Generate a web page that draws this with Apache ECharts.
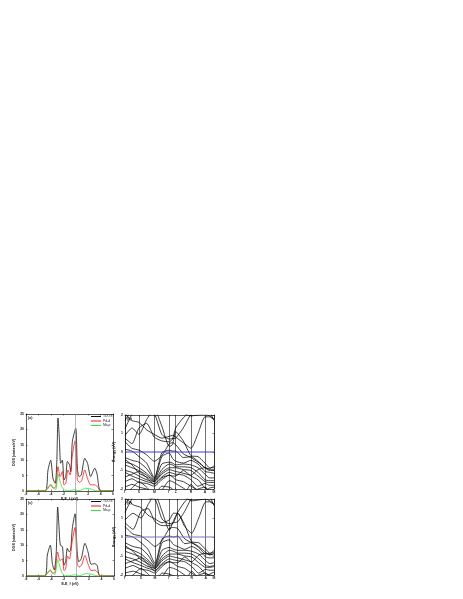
<!DOCTYPE html>
<html>
<head>
<meta charset="utf-8">
<script src="https://cdn.jsdelivr.net/npm/echarts@6/dist/echarts.min.js"></script>
<style>
html,body{margin:0;padding:0;background:#fff}
#main{width:463px;height:599px}
</style>
</head>
<body>
<div id="main"></div>
<script>
var myChart = echarts.init(document.getElementById('main'));

// DOS panels, energy then states
var tdosAx = [-8,-4.95,-4.46,-4.03,-3.65,-3.3,-3.06,-2.85,-2.63,-2.42,-2.15,-1.88,-1.6,-1.34,-1,-0.8,-0.54,0,0.27,0.54,0.9,1.45,1.9,2.4,3.06,3.4,4.03,6];
var tdosAy = [0,0,6.8,10,4,2.5,8.5,23.7,17,9,10,3.6,4.7,9.6,8.5,6.3,16,20.4,7.4,4.7,5.2,10.6,9,4.7,7.4,5.8,0,0];
var pdAx = [-8,-4.95,-4.46,-4,-3.65,-3.2,-2.85,-2.5,-2.15,-1.88,-1.6,-1.24,-0.9,-0.54,-0.1,0.27,0.65,1,1.45,1.9,2.4,3.06,3.5,4,6];
var pdAy = [0,0,0.9,2,0.9,1.4,7.9,4.7,6.3,2,2.5,6.8,5.2,11.7,16.3,3.6,2.8,3.6,6.8,4.1,2,2,1.4,0,0];
var nbAx = [-8,-5,-4.5,-4,-3.6,-3.2,-2.85,-2.5,-2.1,-1.6,-1,-0.3,0,0.5,1,1.6,2.4,3,4,6];
var nbAy = [0,0,1.2,2.2,1,0.5,5.5,3,0.9,0.1,0.1,0.4,0.3,0.1,0.4,0.9,0.7,0.2,0,0];

var tdosCx = [-8,-5,-4.6,-4.13,-3.8,-3.5,-3.2,-2.96,-2.75,-2.54,-2.2,-1.96,-1.7,-1.43,-1.16,-0.9,-0.63,-0.2,0.16,0.42,0.8,1.38,1.85,2.38,2.9,3.3,3.8,6];
var tdosCy = [0,0,6.8,10,4,2,7.3,22.4,16,10,9.5,3.5,4.6,9,7.9,8.4,15.5,20.2,7.3,4.6,5.7,10.6,7.9,3.8,4,3.5,0,0];
var pdCx = [-8,-5,-4.6,-4.13,-3.8,-3.4,-2.96,-2.6,-2.2,-1.96,-1.7,-1.4,-1.1,-0.63,-0.2,0.16,0.5,0.9,1.38,1.85,2.38,3,3.4,3.8,6];
var pdCy = [0,0,0.9,1.8,0.9,1.2,7.8,5,5.6,1.8,2.2,6.5,5.5,11.5,15.8,3.8,2.9,3.8,6.7,4,1.8,1.9,1.2,0,0];
var nbCx = [-8,-5,-4.6,-4.13,-3.8,-3.4,-2.96,-2.6,-2.2,-1.7,-1,-0.4,0,0.5,1,1.6,2.4,3,3.8,6];
var nbCy = [0,0,1,2.1,1,0.5,5.3,3,0.8,0.1,0.1,0.4,0.3,0.1,0.4,0.8,0.6,0.2,0,0];

// band structure
var kLabels = ['Γ','X','M','Γ','Z','R','A','M'];
var kTicksB = [0,14,29.3,44.3,50.7,66,80,89];
var kTicksD = [0,16,30,44.3,52.7,66.7,80.7,89];
var kPathB = [0,7,14,21.6,29.3,36.8,44.3,47.5,50.7,58.3,66,73,80,84.5,89];
var kPathD = [0,8,16,23,30,37,44.3,48.5,52.7,59.7,66.7,73.7,80.7,84.8,89];

var bandsB = [
  [1.26,2.05,2.6,2.8,2.9,2.6,2.1,2.2,2.3,2.1,1.95,2.0,2.05,1.95,1.8],
  [1.7,2.3,2.6,2.1,2.05,0.95,0.7,0.72,0.75,1.3,2.05,2.35,2.6,2.5,2.3],
  [0.75,0.45,1.3,1.55,0.8,0.6,0.55,0.7,1.3,1.85,2.2,2.3,2.5,2.2,1.7],
  [0.9,1.3,0.95,1.75,2.3,1.4,0.3,0.4,1.1,0.6,-0.2,-0.25,-0.6,-0.85,-0.85],
  [0.55,0.2,0.1,-0.15,-0.5,-0.2,0.45,0.5,0.4,-0.1,-0.3,-0.55,-0.85,-0.9,-0.75],
  [2.1,1.7,1.6,1.2,0.95,0.75,0.85,0.9,0.8,0.5,0.2,1.0,1.9,1.9,1.75],
  [0.15,0.05,-0.25,-0.6,-1.4,-0.05,0.1,0.05,0.05,-0.3,-0.25,-0.5,-0.85,-1.0,-0.95],
  [-0.3,-0.45,-0.55,-0.9,-1.45,-0.25,-0.05,-0.35,-0.5,-0.6,-0.45,-0.65,-1.05,-1.1,-1.15],
  [-0.55,-0.65,-0.85,-1.15,-1.5,-0.65,-0.55,-0.6,-0.7,-0.65,-0.7,-0.85,-1.2,-1.4,-1.4],
  [-0.7,-0.85,-1.0,-1.25,-1.55,-0.95,-0.65,-0.7,-0.8,-0.8,-0.85,-1.1,-1.5,-1.55,-1.55],
  [-0.4,-0.7,-1.15,-1.35,-1.6,-1.1,-0.85,-0.85,-0.85,-0.95,-1.0,-1.3,-1.6,-1.65,-1.65],
  [-1.0,-1.1,-1.3,-1.5,-1.6,-1.2,-0.95,-1.0,-1.05,-1.15,-1.25,-0.95,-0.85,-0.95,-1.0],
  [-1.1,-1.3,-1.45,-1.6,-1.7,-1.35,-1.1,-1.15,-1.2,-1.25,-1.5,-1.85,-1.7,-1.8,-1.8],
  [-1.35,-1.2,-1.05,-1.4,-1.75,-1.4,-1.25,-1.3,-1.3,-1.0,-1.3,-1.5,-1.95,-2.05,-2.1],
  [-1.6,-1.45,-1.65,-1.7,-1.85,-1.5,-1.25,-1.35,-1.5,-1.6,-1.85,-2.05,-2.1,-1.95,-1.9],
  [-1.9,-1.75,-1.9,-2.0,-2.2,-2.05,-1.55,-1.6,-1.7,-1.95,-2.2,-2.0,-1.9,-2.1,-2.2],
  [-2.3,-1.95,-1.6,-1.9,-2.3,-1.85,-1.9,-2.0,-2.2,-2.3,-1.75,-2.2,-2.4,-2.4,-2.4]
];
var bandsD = [
  [1.3,2.1,2.6,2.8,2.9,2.6,2.15,2.25,2.3,2.1,1.9,1.95,2.0,1.9,1.75],
  [1.7,2.35,2.6,2.05,2.0,0.95,0.7,0.75,0.8,1.35,2.05,2.3,2.6,2.45,2.2],
  [0.75,0.4,1.35,1.5,0.8,0.6,0.6,0.75,1.3,1.85,2.2,2.25,2.5,2.15,1.65],
  [0.9,1.25,1.0,1.7,2.25,1.35,0.35,0.85,1.25,0.65,-0.25,-0.3,-0.65,-0.85,-0.8],
  [0.55,0.15,0.05,-0.2,-0.5,-0.2,0.45,0.5,0.45,-0.1,-0.3,-0.55,-0.9,-0.9,-0.7],
  [2.1,1.7,1.55,1.15,0.95,0.75,0.9,1.25,1.25,0.55,0.2,1.0,1.85,1.85,1.7],
  [0.1,0.0,-0.3,-0.65,-1.4,-0.1,0.05,0.0,0.05,-0.35,-0.3,-0.5,-0.8,-0.95,-0.85],
  [-0.3,-0.5,-0.6,-0.95,-1.5,-0.3,-0.15,-0.4,-0.5,-0.65,-0.5,-0.7,-1.05,-1.1,-1.1],
  [-0.55,-0.7,-0.9,-1.2,-1.55,-0.7,-0.55,-0.65,-0.7,-0.7,-0.75,-0.9,-1.25,-1.4,-1.35],
  [-0.75,-0.9,-1.05,-1.3,-1.6,-1.0,-0.7,-0.75,-0.85,-0.85,-0.9,-1.15,-1.5,-1.55,-1.5],
  [-0.45,-0.75,-1.2,-1.4,-1.65,-1.15,-0.9,-0.9,-0.9,-1.0,-1.05,-1.35,-1.6,-1.6,-1.55],
  [-1.05,-1.15,-1.35,-1.55,-1.65,-1.25,-1.0,-1.05,-1.1,-1.2,-1.3,-0.95,-0.85,-0.9,-0.95],
  [-1.15,-1.35,-1.5,-1.65,-1.75,-1.4,-1.15,-1.2,-1.25,-1.3,-1.55,-1.9,-1.7,-1.75,-1.75],
  [-1.4,-1.25,-1.1,-1.45,-1.8,-1.45,-1.3,-1.35,-1.35,-1.05,-1.35,-1.55,-1.95,-2.0,-2.05],
  [-1.65,-1.5,-1.7,-1.75,-1.9,-1.55,-1.3,-1.4,-1.55,-1.65,-1.9,-2.1,-2.1,-1.95,-1.85],
  [-1.9,-1.8,-1.95,-2.05,-2.2,-2.1,-1.6,-1.65,-1.75,-2.0,-2.2,-2.0,-1.9,-2.05,-2.15],
  [-2.3,-2.0,-1.65,-1.95,-2.3,-1.9,-1.95,-2.05,-2.2,-2.3,-1.8,-2.2,-2.4,-2.4,-2.4]
];

var dosNames = ['TDOS','Pd-d','Nb-p'];
var dosColors = ['#111111','#f01818','#30e830'];
var fontName = 'Liberation Sans';

function zip(xs, ys) {
    return xs.map(function (x, i) { return [x, ys[i]]; });
}

// one axis pair plus a mirror pair, so the ticks show on all 4 sides
function addAxes(opt, idx, xa, ya) {
    var mirror = function (a, pos) {
        return {
            gridIndex: idx, type: 'value', position: pos, min: a.min, max: a.max, interval: a.interval,
            axisLine: {show: true, onZero: false, lineStyle: {color: '#111', width: 0.7}},
            axisTick: a.customTicks ? {show: true, inside: true, length: 1.5, customValues: a.customTicks, lineStyle: {color: '#111', width: 0.5}}
                : {show: true, inside: true, length: 1.5, lineStyle: {color: '#111', width: 0.5}},
            axisLabel: {show: false}, splitLine: {show: false}
        };
    };
    var main = function (a, pos) {
        var m = mirror(a, pos);
        m.name = a.name;
        m.nameLocation = 'middle';
        m.nameGap = a.nameGap;
        m.nameTextStyle = {fontSize: 3.6, fontWeight: 'bold', fontFamily: fontName, color: '#111'};
        m.axisLabel = {show: true, fontSize: 3.4, fontWeight: 'bold', fontFamily: fontName, color: '#222', margin: 2, hideOverlap: false, showMinLabel: true, showMaxLabel: true};
        if (a.customTicks) {
            m.axisLabel.customValues = a.customTicks;
            m.axisLabel.formatter = function (v) { return kLabels[a.customTicks.indexOf(v)]; };
            m.splitLine = {show: true, lineStyle: {color: '#333', width: 0.7}};
        }
        return m;
    };
    opt.xAxis.push(main(xa, 'bottom'));
    opt.xAxis.push(mirror(xa, 'top'));
    opt.yAxis.push(main(ya, 'left'));
    opt.yAxis.push(mirror(ya, 'right'));
    return opt.xAxis.length - 2;
}

function addDos(opt, box, tag, xs, ys, legendTop) {
    var idx = opt.grid.length;
    opt.grid.push(box);
    var ax = addAxes(opt, idx,
        {min: -8, max: 6, interval: 2, name: 'E-E_f (eV)', nameGap: 5},
        {min: 0, max: 25, interval: 5, name: 'DOS (states/eV)', nameGap: 8});
    dosNames.forEach(function (name, i) {
        var s = {
            type: 'line', name: name, xAxisIndex: ax, yAxisIndex: ax, symbol: 'none', smooth: 0.25,
            data: zip(xs[i], ys[i]), lineStyle: {color: dosColors[i], width: 0.8},
            itemStyle: {color: dosColors[i]}, z: 3 + i
        };
        if (i == 0) {
            s.markLine = {silent: true, symbol: 'none', label: {show: false}, data: [{xAxis: 0}],
                lineStyle: {color: '#999', width: 0.7, type: 'solid'}};
        }
        opt.series.push(s);
    });
    opt.legend.push({
        data: dosNames, orient: 'vertical', left: 91, top: legendTop, itemWidth: 10, itemHeight: 1, itemGap: 1.5,
        icon: 'rect', padding: 0, textStyle: {fontSize: 3.4, fontFamily: fontName, color: '#222', padding: [0, 0, 0, -3]}
    });
    opt.graphic.push({type: 'text', left: box.left + 2, top: box.top + 2,
        style: {text: tag, fontSize: 3.6, fontWeight: 'bold', fontFamily: fontName, fill: '#222'}});
}

function addBands(opt, box, tag, ticks, path, bands, fermiColor) {
    var idx = opt.grid.length;
    opt.grid.push(box);
    var ax = addAxes(opt, idx,
        {min: 0, max: 89, customTicks: ticks, name: '', nameGap: 6},
        {min: -2, max: 2, interval: 1, name: 'Energy (eV)', nameGap: 3});
    bands.forEach(function (b) {
        opt.series.push({
            type: 'line', xAxisIndex: ax, yAxisIndex: ax, symbol: 'none', smooth: 0.2, clip: true,
            data: zip(path, b), lineStyle: {color: '#000', width: 0.75}
        });
    });
    opt.series.push({
        type: 'line', xAxisIndex: ax, yAxisIndex: ax, symbol: 'none',
        data: zip([0, 89], [0, 0]), lineStyle: {color: fermiColor, width: 1}, z: 8
    });
    opt.graphic.push({type: 'text', left: box.left + 2, top: box.top + 2,
        style: {text: tag, fontSize: 3.6, fontWeight: 'bold', fontFamily: fontName, fill: '#222'}});
}

var option = {
    backgroundColor: '#fff',
    animation: false,
    grid: [], xAxis: [], yAxis: [], legend: [], series: [], graphic: []
};

addDos(option, {left: 26, top: 414, width: 87, height: 77}, '(a)',
    [tdosAx, pdAx, nbAx], [tdosAy, pdAy, nbAy], 415);
addBands(option, {left: 125, top: 415, width: 89, height: 74}, '(b)', kTicksB, kPathB, bandsB, '#3c3cd8');
addDos(option, {left: 26, top: 499, width: 88, height: 77}, '(c)',
    [tdosCx, pdCx, nbCx], [tdosCy, pdCy, nbCy], 500);
addBands(option, {left: 125, top: 499, width: 89, height: 76}, '(d)', kTicksD, kPathD, bandsD, '#7777cc');

myChart.setOption(option);
</script>
</body>
</html>
